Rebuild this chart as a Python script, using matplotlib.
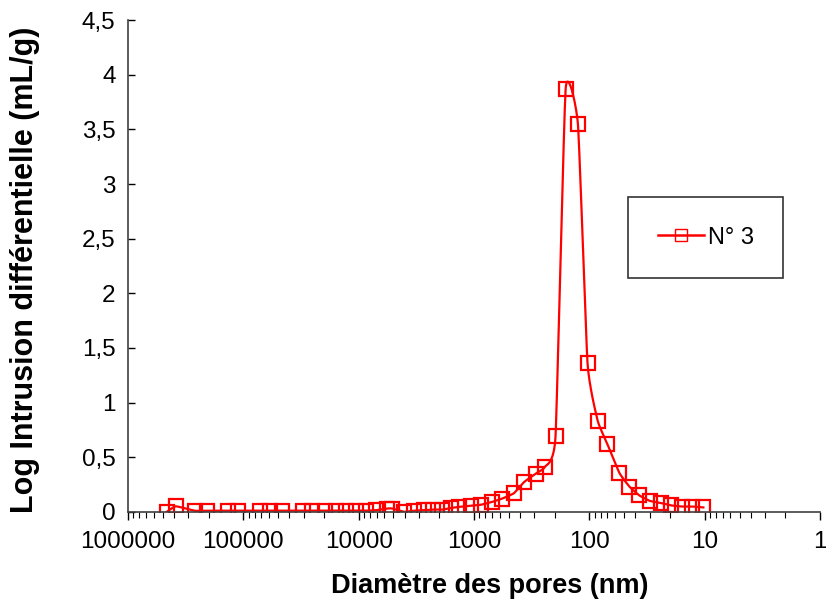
import numpy as np
import matplotlib
matplotlib.use('Agg')
import matplotlib.pyplot as plt
from matplotlib.ticker import FixedLocator, LogLocator, NullFormatter

plt.rcParams['font.family'] = ['Liberation Sans', 'DejaVu Sans']

# Diamètre des pores (nm) et intrusion différentielle (mL/g)
diametre = [460000, 385000, 264000, 208000, 137000, 112000, 72300, 59300, 46700,
            30700, 25200, 19800, 15900, 12800, 10500, 8600, 7040, 5660, 5130,
            4040, 3310, 2710, 2260, 1890, 1580, 1350, 1060, 871, 700, 574, 452,
            371, 292, 244, 197, 161, 126, 104, 85, 70, 55, 45, 37, 30, 24, 19.5,
            15.7, 12.8, 10.3]
intrusion = [0.0, 0.05, 0.01, 0.01, 0.01, 0.01, 0.01, 0.01, 0.01, 0.01, 0.01,
             0.01, 0.01, 0.01, 0.01, 0.01, 0.015, 0.03, 0.03, 0.0, 0.01, 0.015,
             0.02, 0.02, 0.035, 0.045, 0.055, 0.065, 0.09, 0.12, 0.17, 0.27, 0.35,
             0.41, 0.69, 3.87, 3.55, 1.36, 0.835, 0.62, 0.355, 0.23, 0.15, 0.10,
             0.08, 0.058, 0.048, 0.048, 0.04]
serie = 'N° 3'

y_ticks = [0, 0.5, 1, 1.5, 2, 2.5, 3, 3.5, 4, 4.5]
x_ticks = [1000000, 100000, 10000, 1000, 100, 10, 1]


def lisser(x, y, k=0.45, n=16):
    ''' Courbe lissée (Hermite, tension réduite) en espace log(x) '''
    p = np.column_stack([np.log10(x), np.asarray(y, dtype=float)])
    m = np.zeros_like(p)
    m[1:-1] = (p[2:] - p[:-2]) * 0.5 * k
    m[0] = (p[1] - p[0]) * k
    m[-1] = (p[-1] - p[-2]) * k
    t = np.linspace(0, 1, n, endpoint=False)[:, None]
    h00 = 2 * t ** 3 - 3 * t ** 2 + 1
    h10 = t ** 3 - 2 * t ** 2 + t
    h01 = -2 * t ** 3 + 3 * t ** 2
    h11 = t ** 3 - t ** 2
    seg = [h00 * p[i] + h10 * m[i] + h01 * p[i + 1] + h11 * m[i + 1]
           for i in range(len(p) - 1)]
    c = np.vstack(seg + [p[-1:]])
    return 10 ** c[:, 0], c[:, 1]


fig = plt.figure(figsize=(8.26, 6.10), dpi=100)
ax = fig.add_axes([0.155, 0.161, 0.838, 0.806])

xs, ys = lisser(diametre, intrusion)
ax.plot(xs, ys, color='#FF0000', lw=1.6)
ax.plot(diametre, intrusion, ls='none', marker='s', ms=9.5, mfc='none',
        mec='#FF0000', mew=1.6)
ax.plot([], [], color='#FF0000', lw=1.8, marker='s', ms=8, mfc='none',
        mec='#FF0000', mew=1.0, label=serie)

ax.set_xscale('log')
ax.set_xlim(1000000, 1)
ax.set_ylim(0, 4.5)

ax.xaxis.set_major_locator(FixedLocator(x_ticks))
ax.set_xticklabels([str(v) for v in x_ticks])
ax.xaxis.set_minor_locator(LogLocator(base=10, subs=np.arange(2, 10)))
ax.xaxis.set_minor_formatter(NullFormatter())
ax.set_yticks(y_ticks)
ax.set_yticklabels([('%g' % v).replace('.', ',') for v in y_ticks])

ax.tick_params(axis='both', labelsize=17.5, colors='black')
ax.tick_params(axis='x', which='major', direction='out', length=6, width=1, pad=8)
ax.tick_params(axis='x', which='minor', direction='out', length=4, width=0.8)
ax.tick_params(axis='y', direction='in', length=5, width=1, pad=9)

for s in ('top', 'right'):
    ax.spines[s].set_visible(False)
for s in ('left', 'bottom'):
    ax.spines[s].set_color('#404040')
    ax.spines[s].set_linewidth(1.2)

ax.set_xlabel('Diamètre des pores (nm)', fontsize=19.5, fontweight='bold')
ax.set_ylabel('Log Intrusion différentielle (mL/g)', fontsize=22,
              fontweight='bold')
ax.xaxis.set_label_coords(0.522, -0.124)
ax.yaxis.set_label_coords(-0.127, 0.492)

leg = ax.legend(loc='upper left', bbox_to_anchor=(0.723, 0.64), fontsize=17,
                frameon=True, fancybox=False, edgecolor='black',
                borderpad=1.25, handlelength=1.95, handletextpad=0.15,
                borderaxespad=0)
leg.get_frame().set_linewidth(1.2)

fig.savefig('out.png', dpi=100)
plt.close(fig)
